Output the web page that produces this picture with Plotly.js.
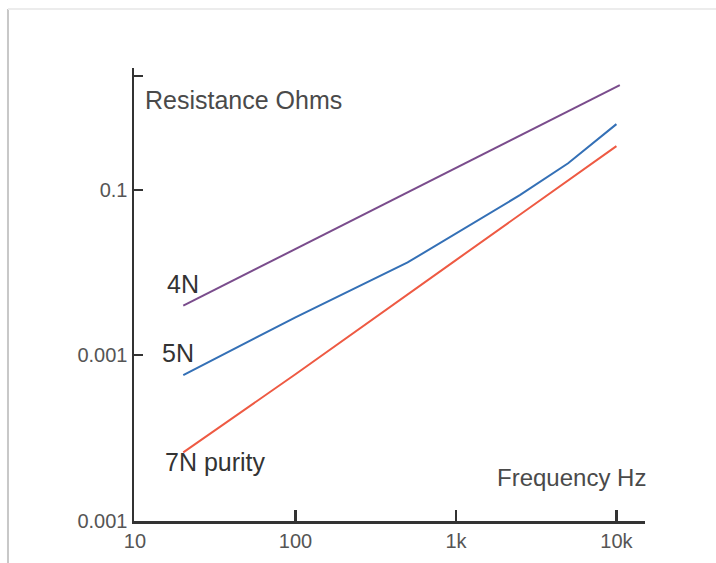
<!DOCTYPE html>
<html>
<head>
<meta charset="utf-8">
<script src="https://cdn.plot.ly/plotly-3.0.1.min.js"></script>
<style>html,body{margin:0;padding:0;background:#fff;}#chart{width:716px;height:563px;}</style>
</head>
<body>
<div id="chart"></div>
<script>
// Data
const freq4N = [20, 100, 1000, 10500];
const res4N  = [0.020, 0.044, 0.135, 0.43];

const freq5N = [20, 100, 500, 2500, 5000, 10000];
const res5N  = [0.0076, 0.017, 0.0365, 0.093, 0.145, 0.25];

const freq7N = [20, 100, 1000, 10000];
const res7N  = [0.0026, 0.0077, 0.0377, 0.184];

const xTickVals = [10, 100, 1000, 10000];
const xTickText = ["10", "100", "1k", "10k"];
const yTickVals = [0.001, 0.01, 0.1, 0.49];
const yTickText = ["0.001", "0.001", "0.1", ""];

const FONT = "Liberation Sans, Arial, sans-serif";
const TXT = "#4a4a4a";

const traces = [
  {x: freq4N, y: res4N, mode: "lines", name: "4N", line: {color: "#7a4c8c", width: 2}},
  {x: freq5N, y: res5N, mode: "lines", name: "5N", line: {color: "#3470b6", width: 2}},
  {x: freq7N, y: res7N, mode: "lines", name: "7N purity", line: {color: "#ee5a43", width: 2}}
];

const layout = {
  width: 716, height: 563,
  margin: {l: 134, r: 71, t: 68, b: 42, pad: 0},
  paper_bgcolor: "#fff", plot_bgcolor: "#fff",
  showlegend: false,
  font: {family: FONT, color: TXT},
  xaxis: {
    type: "log", range: [0.994, 4.178],
    showgrid: false, zeroline: false,
    showline: true, linecolor: "#333", linewidth: 2.5,
    ticks: "inside", ticklen: 11, tickwidth: 2.5, tickcolor: "#333",
    tickmode: "array", tickvals: xTickVals, ticktext: xTickText,
    tickfont: {family: FONT, size: 20, color: "#555"}
  },
  yaxis: {
    type: "log", range: [-3, -0.263],
    showgrid: false, zeroline: false,
    showline: true, linecolor: "#333", linewidth: 2.5,
    ticks: "inside", ticklen: 9, tickwidth: 2, tickcolor: "#333",
    tickmode: "array", tickvals: yTickVals, ticktext: yTickText,
    tickfont: {family: FONT, size: 20, color: "#555"}
  },
  annotations: [
    {text: "Resistance Ohms", xref: "paper", yref: "paper", x: 0.0176, y: 0.929, xanchor: "left", yanchor: "middle", showarrow: false, font: {size: 25, color: TXT}},
    {text: "Frequency Hz", xref: "paper", yref: "paper", x: 1.006, y: 0.095, xanchor: "right", yanchor: "middle", showarrow: false, font: {size: 24, color: TXT}},
    {text: "4N", xref: "paper", yref: "paper", x: 0.0607, y: 0.523, xanchor: "left", yanchor: "middle", showarrow: false, font: {size: 25, color: "#333"}},
    {text: "5N", xref: "paper", yref: "paper", x: 0.0509, y: 0.371, xanchor: "left", yanchor: "middle", showarrow: false, font: {size: 25, color: "#333"}},
    {text: "7N purity", xref: "paper", yref: "paper", x: 0.0568, y: 0.130, xanchor: "left", yanchor: "middle", showarrow: false, font: {size: 25, color: "#333"}}
  ],
  shapes: [
    {type: "line", xref: "paper", yref: "paper", x0: -0.2466, x1: -0.2466, y0: 1.130, y1: -0.0927, line: {color: "#c8c8c8", width: 2}},
    {type: "line", xref: "paper", yref: "paper", x0: -0.2466, x1: 1.139, y0: 1.130, y1: 1.130, line: {color: "#ececec", width: 2}}
  ]
};

Plotly.newPlot("chart", traces, layout, {displayModeBar: false, staticPlot: true});
</script>
</body>
</html>
